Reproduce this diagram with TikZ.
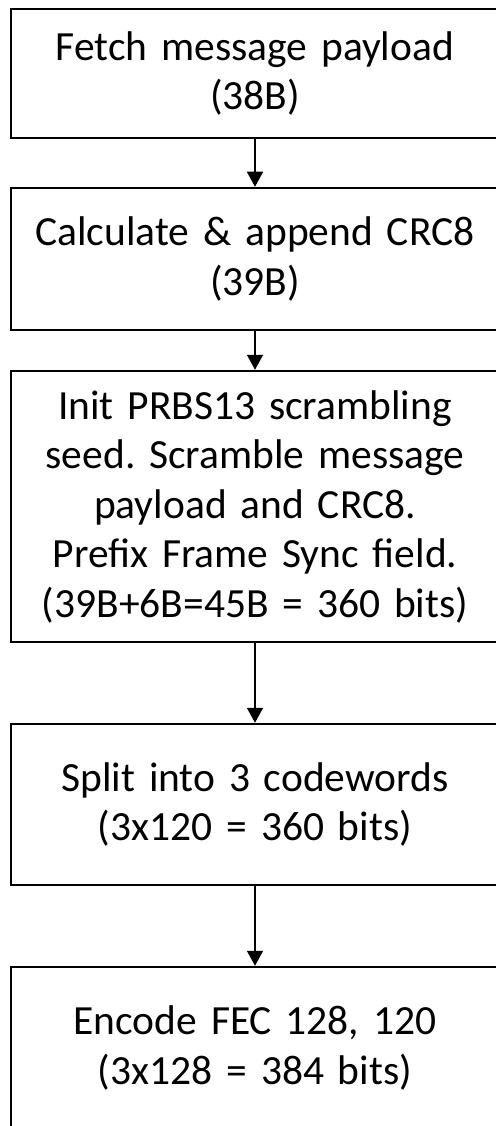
\documentclass[tikz,border=0pt]{standalone}
\usepackage{fontspec}
\setmainfont{Carlito}
\frenchspacing
\usetikzlibrary{arrows.meta,positioning}
\tikzset{
  stepbox/.style={draw,line width=2.5pt,minimum width=488pt,text width=480pt,
    align=center,inner sep=0pt,font=\fontsize{41.5}{49.5}\selectfont},
  flow/.style={line width=1.6pt,-{Triangle[width=16pt,length=15pt]}}
}
\begin{document}
\begin{tikzpicture}
\useasboundingbox (0,0) rectangle (495pt,-1126pt);
\node[stepbox,minimum height=129pt] (fetch) at (255pt,-73.5pt) {Fetch message payload\\(38B)};
\node[stepbox,minimum height=142pt,below=47.5pt of fetch] (crc) {Calculate \& append CRC8\\(39B)};
\node[stepbox,minimum height=271pt,below=38.5pt of crc] (scramble) {Init PRBS13 scrambling\\seed. Scramble message\\payload and CRC8.\\Prefix Frame Sync field.\\(39B+6B=45B = 360 bits)};
\node[stepbox,minimum height=161pt,below=79.5pt of scramble] (split) {Split into 3 codewords\\(3x120 = 360 bits)};
\node[stepbox,minimum height=162pt,below=79.5pt of split] (encode) {Encode FEC 128, 120\\(3x128 = 384 bits)};
\draw[flow] (fetch) -- (crc);
\draw[flow] (crc) -- (scramble);
\draw[flow] (scramble) -- (split);
\draw[flow] (split) -- (encode);
\end{tikzpicture}
\end{document}
